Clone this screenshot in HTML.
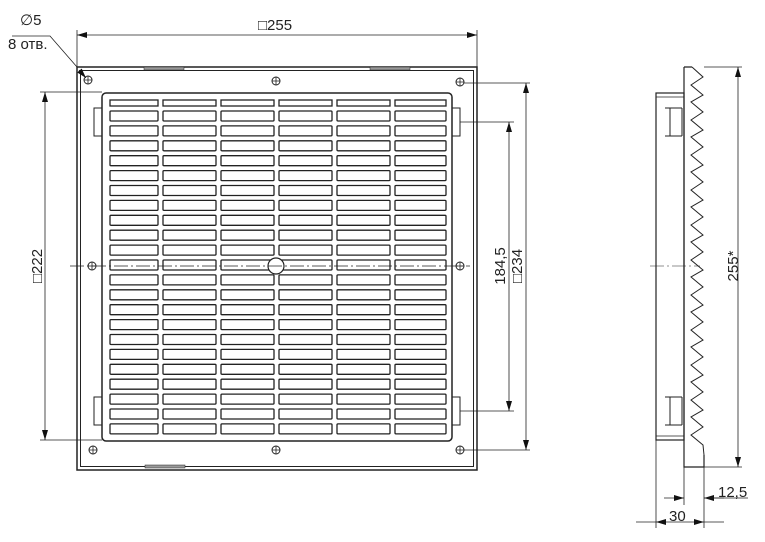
<!DOCTYPE html>
<html><head><style>body{margin:0;background:#fff}svg{display:block}</style></head><body>
<svg width="765" height="542" viewBox="0 0 765 542" xmlns="http://www.w3.org/2000/svg" xmlns:xlink="http://www.w3.org/1999/xlink" font-family="Liberation Sans, sans-serif">
<defs>
<marker id="a" viewBox="0 0 10 6" refX="10" refY="3" markerWidth="10" markerHeight="6" orient="auto-start-reverse" markerUnits="userSpaceOnUse"><path d="M0,0L10,3L0,6z" fill="#111"/></marker>
<g id="h"><circle r="4" fill="none" stroke="#222" stroke-width="1"/><path d="M-4,0H4M0,-4V4" stroke="#222" stroke-width="0.8"/></g>
<g id="r" stroke="#222" fill="none" stroke-width="1.3">
<rect x="110" y="0" width="48" height="10" rx="1"/><rect x="163" y="0" width="53" height="10" rx="1"/><rect x="221" y="0" width="53" height="10" rx="1"/><rect x="279" y="0" width="53" height="10" rx="1"/><rect x="337" y="0" width="53" height="10" rx="1"/><rect x="395" y="0" width="51" height="10" rx="1"/>
</g>
</defs>
<g stroke="#222" fill="none">
<rect x="77" y="67" width="400" height="403" stroke-width="1.5"/>
<rect x="80.5" y="70.5" width="393" height="396" stroke-width="1"/>
<rect x="144" y="67" width="40" height="3" fill="#999" stroke-width="0.5"/>
<rect x="370" y="67" width="40" height="3" fill="#999" stroke-width="0.5"/>
<rect x="145" y="465" width="40" height="3" fill="#999" stroke-width="0.5"/>
<rect x="102" y="93" width="350" height="348" rx="4" stroke-width="1.5"/>
<rect x="94" y="108" width="8" height="28" stroke-width="1"/>
<rect x="94" y="397" width="8" height="28" stroke-width="1"/>
<rect x="452" y="108" width="8" height="28" stroke-width="1"/>
<rect x="452" y="397" width="8" height="28" stroke-width="1"/>
<g stroke-width="1.3">
<rect x="110" y="100" width="48" height="6"/><rect x="163" y="100" width="53" height="6"/><rect x="221" y="100" width="53" height="6"/><rect x="279" y="100" width="53" height="6"/><rect x="337" y="100" width="53" height="6"/><rect x="395" y="100" width="51" height="6"/>
</g>
</g>
<use href="#r" xlink:href="#r" y="111"/><use href="#r" xlink:href="#r" y="125.9"/><use href="#r" xlink:href="#r" y="140.8"/><use href="#r" xlink:href="#r" y="155.7"/><use href="#r" xlink:href="#r" y="170.6"/><use href="#r" xlink:href="#r" y="185.5"/><use href="#r" xlink:href="#r" y="200.4"/><use href="#r" xlink:href="#r" y="215.3"/><use href="#r" xlink:href="#r" y="230.2"/><use href="#r" xlink:href="#r" y="245.1"/><use href="#r" xlink:href="#r" y="260"/><use href="#r" xlink:href="#r" y="274.9"/><use href="#r" xlink:href="#r" y="289.8"/><use href="#r" xlink:href="#r" y="304.7"/><use href="#r" xlink:href="#r" y="319.6"/><use href="#r" xlink:href="#r" y="334.5"/><use href="#r" xlink:href="#r" y="349.4"/><use href="#r" xlink:href="#r" y="364.3"/><use href="#r" xlink:href="#r" y="379.2"/><use href="#r" xlink:href="#r" y="394.1"/><use href="#r" xlink:href="#r" y="409"/><use href="#r" xlink:href="#r" y="423.9"/>
<g stroke="#222">
<circle cx="276" cy="266" r="8" fill="#fff" stroke-width="1.2"/>
<line x1="70" y1="266" x2="470" y2="266" stroke-width="0.7" stroke-dasharray="14,3,2,3"/>
</g>
<use href="#h" xlink:href="#h" x="88" y="80"/><use href="#h" xlink:href="#h" x="276" y="81"/><use href="#h" xlink:href="#h" x="460" y="82"/>
<use href="#h" xlink:href="#h" x="92" y="266"/><use href="#h" xlink:href="#h" x="460" y="266"/>
<use href="#h" xlink:href="#h" x="93" y="450"/><use href="#h" xlink:href="#h" x="276" y="450"/><use href="#h" xlink:href="#h" x="460" y="450"/>
<g stroke="#222" stroke-width="0.8" fill="none">
<line x1="77" y1="30" x2="77" y2="67"/><line x1="477" y1="30" x2="477" y2="67"/>
<line x1="77" y1="35" x2="477" y2="35" marker-start="url(#a)" marker-end="url(#a)"/>
<line x1="40" y1="92" x2="102" y2="92"/><line x1="40" y1="440" x2="102" y2="440"/>
<line x1="45" y1="92" x2="45" y2="440" marker-start="url(#a)" marker-end="url(#a)"/>
<line x1="460" y1="122" x2="514" y2="122"/><line x1="460" y1="411" x2="514" y2="411"/>
<line x1="509" y1="122" x2="509" y2="411" marker-start="url(#a)" marker-end="url(#a)"/>
<line x1="464" y1="83" x2="530" y2="83"/><line x1="464" y1="450" x2="530" y2="450"/>
<line x1="526" y1="83" x2="526" y2="450" marker-start="url(#a)" marker-end="url(#a)"/>
<polyline points="12,36 50,36 77,67"/>
<line x1="79" y1="70" x2="86" y2="78" marker-end="url(#a)"/>
</g>
<g fill="#222" font-size="15">
<text x="258" y="30">□255</text>
<text x="20" y="25">∅5</text>
<text x="8" y="49">8 отв.</text>
<text transform="translate(42,266) rotate(-90)" text-anchor="middle">□222</text>
<text transform="translate(505,266) rotate(-90)" text-anchor="middle">184,5</text>
<text transform="translate(522,266) rotate(-90)" text-anchor="middle">□234</text>
<text transform="translate(738,266) rotate(-90)" text-anchor="middle">255*</text>
<text x="718" y="497">12,5</text>
<text x="669" y="521">30</text>
</g>
<g stroke="#222" fill="none" stroke-width="1.2">
<rect x="656" y="93" width="28" height="347"/>
<line x1="656" y1="97" x2="684" y2="97" stroke-width="0.8"/>
<line x1="656" y1="436" x2="684" y2="436" stroke-width="0.8"/>
<path d="M665,108H682M665,136H682M670,108V136M682,108V136" stroke-width="1"/>
<path d="M665,397H682M665,425H682M670,397V425M682,397V425" stroke-width="1"/>
<polyline stroke-width="1" points="692,67 703,77 691,85 703,95 691,102 703,112 691,120 703,130 691,137 703,147 691,155 703,165 691,172 703,182 691,190 703,200 691,207 703,217 691,225 703,235 691,242 703,252 691,260 703,270 691,277 703,287 691,295 703,305 691,312 703,322 691,330 703,340 691,347 703,357 691,365 703,375 691,382 703,392 691,400 703,410 691,417 703,427 691,435 703,445 704,455"/>
<path d="M684,67H692M684,67V467H704V455"/>
<line x1="650" y1="266" x2="700" y2="266" stroke-width="0.6" stroke-dasharray="14,3,2,3"/>
</g>
<g stroke="#222" stroke-width="0.8" fill="none">
<line x1="704" y1="67" x2="742" y2="67"/><line x1="704" y1="467" x2="742" y2="467"/>
<line x1="738" y1="67" x2="738" y2="467" marker-start="url(#a)" marker-end="url(#a)"/>
<line x1="656" y1="440" x2="656" y2="528"/><line x1="684" y1="467" x2="684" y2="505"/><line x1="704" y1="467" x2="704" y2="528"/>
<line x1="664" y1="498" x2="684" y2="498" marker-end="url(#a)"/>
<line x1="724" y1="498" x2="704" y2="498" marker-end="url(#a)"/>
<line x1="704" y1="498" x2="748" y2="498"/>
<line x1="656" y1="522" x2="704" y2="522" marker-start="url(#a)" marker-end="url(#a)"/>
<line x1="636" y1="522" x2="656" y2="522"/><line x1="704" y1="522" x2="724" y2="522"/>
</g>
</svg>
</body></html>
